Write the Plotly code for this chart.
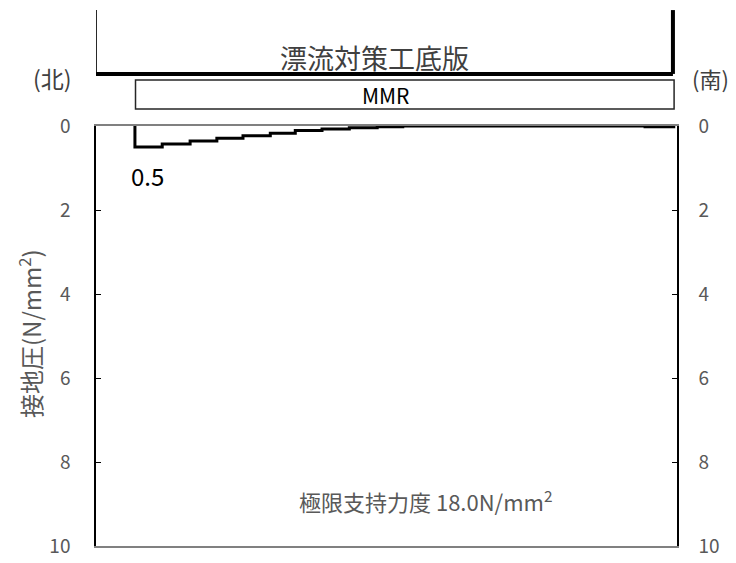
import plotly.graph_objects as go

# Data (distance along slab in %, contact pressure in N/mm2)
step_edges = [6.7, 11.4, 16.2, 20.8, 25.3, 30.0, 34.3, 38.9, 43.6, 48.4, 52.8, 94.5, 99.7]
step_levels = [0.5, 0.43, 0.36, 0.29, 0.23, 0.17, 0.11, 0.07, 0.04, 0.02, 0.0, 0.02]
y_ticks = [0, 2, 4, 6, 8, 10]

slab_start, slab_end = -0.2, 99.3
mmr_start, mmr_end = 6.8, 99.5

x_vals = [step_edges[0]] + step_edges
y_vals = [0] + step_levels + [step_levels[-1]]

FONT = "Noto Sans CJK JP"
GRAY = "#595959"

fig = go.Figure()
fig.add_trace(go.Scatter(x=x_vals, y=y_vals, mode="lines", line_shape="hv",
                         line=dict(color="black", width=3), showlegend=False,
                         hoverinfo="skip"))
fig.add_trace(go.Scatter(x=[0], y=[0], yaxis="y2", mode="markers",
                         marker=dict(opacity=0), showlegend=False, hoverinfo="skip"))

axis_common = dict(range=[10, 0], tickvals=y_ticks, ticks="inside", ticklen=5,
                   tickcolor="black", tickwidth=1.2, showline=True, linecolor="black",
                   linewidth=1.5, showgrid=False, zeroline=False, automargin=False,
                   tickfont=dict(family=FONT, size=19, color=GRAY))

def note(text, x, y, size, color, xref="paper", yref="paper", **kw):
    return dict(text=text, xref=xref, yref=yref, x=x, y=y, showarrow=False,
                xanchor="center", yanchor="middle",
                font=dict(family=FONT, size=size, color=color), **kw)

fig.update_layout(
    width=736, height=563,
    margin=dict(l=96, r=59, t=126, b=17, autoexpand=False),
    paper_bgcolor="white", plot_bgcolor="white",
    xaxis=dict(range=[0, 100], showticklabels=False, ticks="", showgrid=False,
               zeroline=False, showline=True, mirror=True, linecolor="#808080",
               linewidth=1.5, automargin=False),
    yaxis=dict(**axis_common, side="left", ticklabelstandoff=20),
    yaxis2=dict(**axis_common, side="right", overlaying="y", ticklabelstandoff=16),
    shapes=[
        # slab outline (U shape)
        dict(type="line", xref="x", yref="paper", x0=slab_start, x1=slab_start,
             y0=1.276, y1=1.124, line=dict(color="black", width=4)),
        dict(type="line", xref="x", yref="paper", x0=slab_start, x1=slab_end,
             y0=1.124, y1=1.124, line=dict(color="black", width=4)),
        dict(type="line", xref="x", yref="paper", x0=slab_end, x1=slab_end,
             y0=1.276, y1=1.124, line=dict(color="black", width=4)),
        # MMR box
        dict(type="rect", xref="x", yref="paper", x0=mmr_start, x1=mmr_end,
             y0=1.0405, y1=1.1095, line=dict(color="#262626", width=1.5),
             fillcolor="white"),
    ],
    annotations=[
        note("漂流対策工底版", 0.480, 1.164, 27, "#404040"),
        note("MMR", 0.499, 1.074, 21, "black"),
        note("(北)", -0.0757, 1.114, 23, "#404040"),
        note("(南)", 1.058, 1.114, 22, "#404040"),
        note("0.5", 8.78, 1.18, 24, "black", xref="x", yref="y"),
        note("極限支持力度 18.0N/mm<sup>2</sup>", 0.568, 0.1095, 22, GRAY),
        note("接地圧(N/mm<sup>2</sup>)", -0.1136, 0.507, 24, GRAY, textangle=-90),
    ],
)

fig.write_html("out.html", config={"displayModeBar": False},
               post_script="document.body.style.margin='0';document.body.style.overflow='hidden';")
